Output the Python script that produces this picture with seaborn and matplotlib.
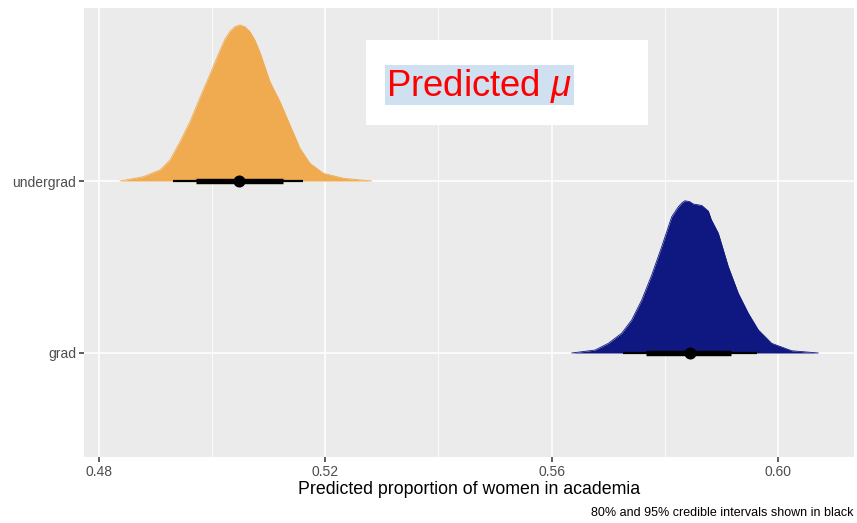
import matplotlib
matplotlib.use("Agg")
import matplotlib.pyplot as plt
from matplotlib.patches import Rectangle
import numpy as np
import pandas as pd
import seaborn as sns

# Posterior density of predicted proportion, undergrad level
undergrad_x = [0.48371, 0.48783, 0.49078, 0.49255, 0.49432, 0.49609, 0.49785,
               0.49962, 0.50139, 0.50227, 0.50316, 0.50404, 0.50493, 0.50581,
               0.50669, 0.50758, 0.50846, 0.51023, 0.51200, 0.51376, 0.51553,
               0.51730, 0.51965, 0.52319, 0.52821]
undergrad_h = [0.000, 0.025, 0.064, 0.122, 0.228, 0.345, 0.485,
               0.620, 0.760, 0.825, 0.870, 0.898, 0.907, 0.897,
               0.868, 0.818, 0.748, 0.577, 0.461, 0.326, 0.190,
               0.103, 0.045, 0.016, 0.000]

# Posterior density of predicted proportion, grad level
grad_x = [0.56356, 0.56768, 0.57003, 0.57240, 0.57417, 0.57594, 0.57770,
          0.57947, 0.58124, 0.58240, 0.58311, 0.58359, 0.58441, 0.58506,
          0.58654, 0.58771, 0.58824, 0.58948, 0.59124, 0.59301, 0.59478,
          0.59655, 0.59891, 0.60245, 0.60715]
grad_h = [0.000, 0.017, 0.056, 0.115, 0.192, 0.308, 0.453,
          0.618, 0.792, 0.850, 0.875, 0.885, 0.880, 0.866,
          0.858, 0.825, 0.775, 0.696, 0.502, 0.347, 0.231,
          0.134, 0.056, 0.013, 0.000]

levels = ["grad", "undergrad"]
medians = [0.58447, 0.50480]
ci80_lo = [0.57669, 0.49715]
ci80_hi = [0.59172, 0.51258]
ci95_lo = [0.57268, 0.49302]
ci95_hi = [0.59626, 0.51610]
fills = ["#0F1780", "#F0AB50"]

x_ticks = [0.48, 0.52, 0.56, 0.60]
x_minor = [0.50, 0.54, 0.58]

sns.set_theme(style="darkgrid", rc={
    "axes.facecolor": "#EBEBEB",
    "figure.facecolor": "white",
    "grid.color": "white",
})
plt.rcParams["font.family"] = ["Liberation Sans", "DejaVu Sans"]
plt.rcParams["mathtext.fontset"] = "custom"
plt.rcParams["mathtext.rm"] = "Liberation Sans"
plt.rcParams["mathtext.it"] = "Liberation Sans:italic"

fig = plt.figure(figsize=(8.57, 5.23), dpi=100)
ax = fig.add_axes([0.098, 0.1262, 0.8985, 0.8585])

ypos = {lvl: i + 1 for i, lvl in enumerate(levels)}

# Half-eye slabs
densities = {"grad": (grad_x, grad_h), "undergrad": (undergrad_x, undergrad_h)}
for lvl, col in zip(levels, fills):
    xs, hs = densities[lvl]
    base = ypos[lvl]
    top = [base + h for h in hs]
    ax.fill_between(xs, base, top, color=col, linewidth=0, zorder=2)
    df = pd.DataFrame({"x": xs, "y": top})
    sns.lineplot(data=df, x="x", y="y", color=col, linewidth=0.6, ax=ax,
                 sort=False, zorder=2)

# Credible intervals and medians
for i, lvl in enumerate(levels):
    y = ypos[lvl]
    ax.plot([ci95_lo[i], ci95_hi[i]], [y, y], color="black", lw=1.6,
            solid_capstyle="butt", zorder=3)
    ax.plot([ci80_lo[i], ci80_hi[i]], [y, y], color="black", lw=3.9,
            solid_capstyle="butt", zorder=3)
pts = pd.DataFrame({"x": medians, "y": [ypos[l] for l in levels]})
sns.scatterplot(data=pts, x="x", y="y", color="black", s=75, linewidth=0,
                ax=ax, zorder=4)

ax.set_xlim(0.47735, 0.61346)
ax.set_ylim(0.3953, 3.006)

ax.set_xticks(x_ticks)
ax.set_xticklabels([f"{t:.2f}" for t in x_ticks])
ax.set_xticks(x_minor, minor=True)
ax.set_yticks([ypos[l] for l in levels])
ax.set_yticklabels(levels)

ax.grid(which="major", color="white", linewidth=1.1)
ax.grid(which="minor", axis="x", color="white", linewidth=0.55)
ax.grid(which="minor", axis="y", visible=False)
ax.set_axisbelow(True)
for s in ax.spines.values():
    s.set_visible(False)

ax.tick_params(axis="both", which="major", bottom=True, left=True,
               length=3.5, width=1.1, direction="out",
               color="#333333", labelcolor="#4D4D4D", labelsize=10, pad=2)
ax.tick_params(axis="both", which="minor", length=0)

ax.set_xlabel("Predicted proportion of women in academia", fontsize=12.8,
              color="black", labelpad=2)
ax.set_ylabel("")

# Annotation box
ax.add_patch(Rectangle((0.52720, 2.3256), 0.57705 - 0.52720, 2.820 - 2.3256,
                       facecolor="white", edgecolor="none", zorder=5))
ax.add_patch(Rectangle((0.53056, 2.442), 0.56397 - 0.53056, 2.674 - 2.442,
                       facecolor="#CFE0F1", edgecolor="none", zorder=6))
ax.text(0.53080, 2.552, r"Predicted $\mu$", color="#FF0000", fontsize=26.3,
        ha="left", va="center", zorder=7)

fig.text(0.9955, 0.008, "80% and 95% credible intervals shown in black",
         ha="right", va="bottom", fontsize=9, color="black")

fig.savefig("out.png", dpi=100)
